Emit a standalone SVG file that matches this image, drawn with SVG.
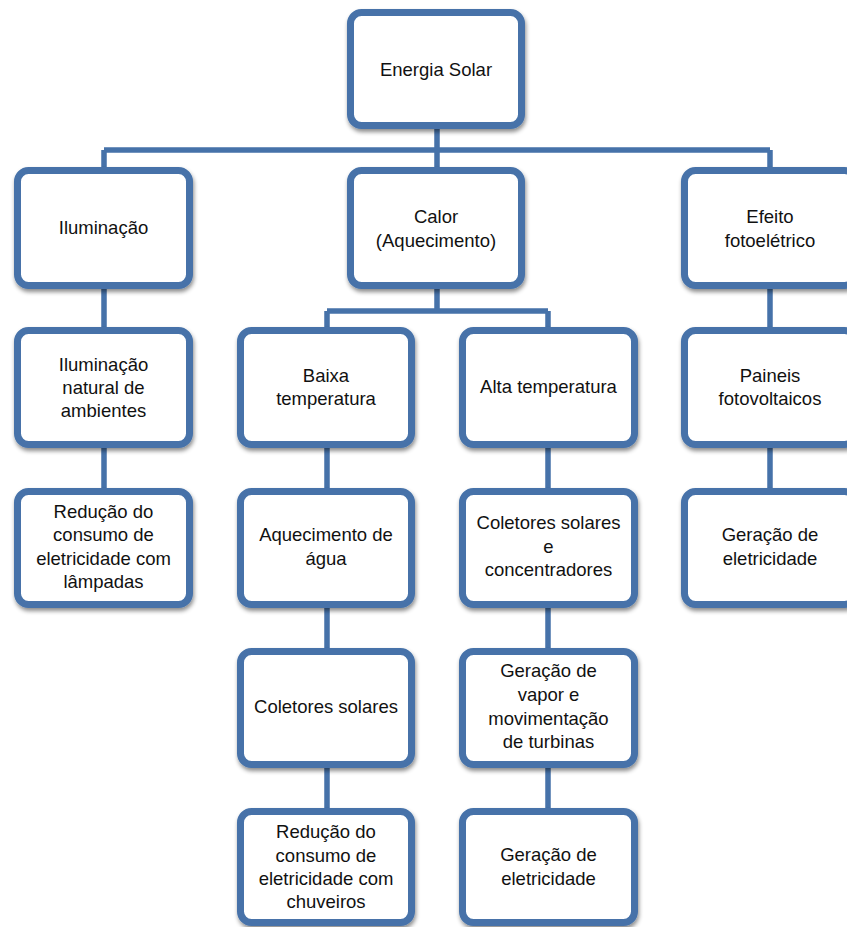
<svg xmlns="http://www.w3.org/2000/svg" width="847" height="927" viewBox="0 0 847 927">
<defs>
<filter id="sh" x="-10%" y="-10%" width="130%" height="130%">
<feDropShadow dx="1" dy="3" stdDeviation="2.2" flood-color="#000" flood-opacity="0.45"/>
</filter>
<style>
.box{fill:#fff;stroke:#4672a9;stroke-width:7;filter:url(#sh)}
.c{fill:none;stroke:#4672a9;stroke-width:5.5}
text{font-family:"Liberation Sans",Arial,sans-serif;font-size:18.5px;fill:#111;text-anchor:middle}
</style>
</defs>
<rect width="847" height="927" fill="#fff"/>
<g id="connectors">
<path class="c" d="M437,129V150M104,150H770M104,150V168M437,150V168M770,150V168"/>
<path class="c" d="M104,289V328M104,447V488"/>
<path class="c" d="M437,289V311M327,311H548M327,311V328M548,311V328"/>
<path class="c" d="M327,447V488M327,607V648M327,767V808"/>
<path class="c" d="M548,447V488M548,607V648M548,767V808"/>
<path class="c" d="M770,289V328M770,447V488"/>
</g>
<g id="n-energia"><rect class="box" x="350.5" y="12.5" width="171" height="113" rx="11"/><text x="436" y="76">Energia Solar</text></g>
<g id="n-iluminacao"><rect class="box" x="17.5" y="170.5" width="172" height="115" rx="11"/><text x="103.5" y="234">Iluminação</text></g>
<g id="n-calor"><rect class="box" x="350.5" y="170.5" width="171" height="115" rx="11"/><text x="436" y="223">Calor</text><text x="436" y="247">(Aquecimento)</text></g>
<g id="n-efeito"><rect class="box" x="684.5" y="170.5" width="171" height="115" rx="11"/><text x="770" y="223">Efeito</text><text x="770" y="247">fotoelétrico</text></g>
<g id="n-ilum-natural"><rect class="box" x="17.5" y="330.5" width="172" height="114" rx="11"/><text x="103.5" y="371">Iluminação</text><text x="103.5" y="394">natural de</text><text x="103.5" y="417">ambientes</text></g>
<g id="n-baixa"><rect class="box" x="240.5" y="330.5" width="171" height="114" rx="11"/><text x="326" y="382">Baixa</text><text x="326" y="405">temperatura</text></g>
<g id="n-alta"><rect class="box" x="462.5" y="330.5" width="172" height="114" rx="11"/><text x="548.5" y="393">Alta temperatura</text></g>
<g id="n-paineis"><rect class="box" x="684.5" y="330.5" width="171" height="114" rx="11"/><text x="770" y="382">Paineis</text><text x="770" y="405">fotovoltaicos</text></g>
<g id="n-reducao-lampadas"><rect class="box" x="17.5" y="491.5" width="172" height="113" rx="11"/><text x="103.5" y="518">Redução do</text><text x="103.5" y="541">consumo de</text><text x="103.5" y="565">eletricidade com</text><text x="103.5" y="588">lâmpadas</text></g>
<g id="n-aquecimento-agua"><rect class="box" x="240.5" y="491.5" width="171" height="113" rx="11"/><text x="326" y="541">Aquecimento de</text><text x="326" y="565">água</text></g>
<g id="n-coletores-concentradores"><rect class="box" x="462.5" y="491.5" width="172" height="113" rx="11"/><text x="548.5" y="529">Coletores solares</text><text x="548.5" y="553">e</text><text x="548.5" y="576">concentradores</text></g>
<g id="n-geracao-eletricidade-1"><rect class="box" x="684.5" y="491.5" width="171" height="113" rx="11"/><text x="770" y="541">Geração de</text><text x="770" y="565">eletricidade</text></g>
<g id="n-coletores-solares"><rect class="box" x="240.5" y="651.5" width="171" height="113" rx="11"/><text x="326" y="713">Coletores solares</text></g>
<g id="n-geracao-vapor"><rect class="box" x="462.5" y="651.5" width="172" height="113" rx="11"/><text x="548.5" y="677">Geração de</text><text x="548.5" y="701">vapor e</text><text x="548.5" y="725">movimentação</text><text x="548.5" y="748">de turbinas</text></g>
<g id="n-reducao-chuveiros"><rect class="box" x="240.5" y="811.5" width="171" height="111" rx="11"/><text x="326" y="838">Redução do</text><text x="326" y="862">consumo de</text><text x="326" y="885">eletricidade com</text><text x="326" y="908">chuveiros</text></g>
<g id="n-geracao-eletricidade-2"><rect class="box" x="462.5" y="811.5" width="172" height="111" rx="11"/><text x="548.5" y="861">Geração de</text><text x="548.5" y="885">eletricidade</text></g>
</svg>
